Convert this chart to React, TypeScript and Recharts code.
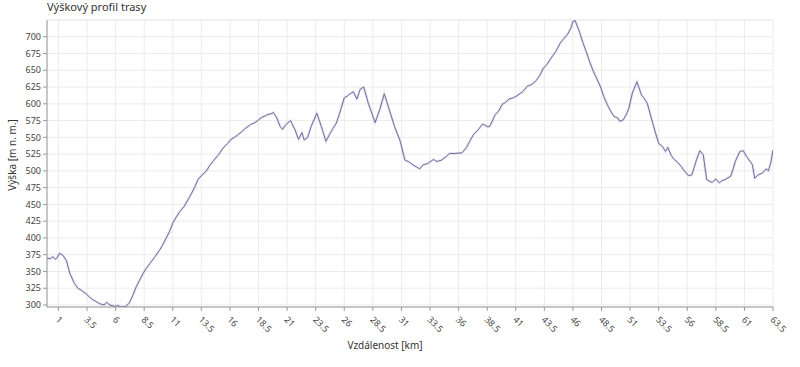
import React from 'react'
import {
  LineChart,
  Line,
  XAxis,
  YAxis,
  CartesianGrid,
  ReferenceLine,
} from 'recharts'

// distance along the route [km]
const distances = [
  0, 0.3, 0.5, 0.75, 0.9, 1.1, 1.4, 1.7, 2.0, 2.4, 2.7, 3.0, 3.4, 3.7, 4.0, 4.3, 4.6, 5.0, 5.2, 5.5, 5.9, 6.2,
  6.5, 6.9, 7.2, 7.5, 7.8, 8.1, 8.4, 8.7, 9.0, 9.4, 9.85, 10.1, 10.4, 10.7, 11.0, 11.3, 11.6, 12.0, 12.5, 12.9,
  13.2, 13.5, 13.9, 14.2, 14.5, 15.0, 15.4, 15.8, 16.1, 16.4, 16.7, 17.0, 17.4, 17.8, 18.2, 18.5, 18.8, 19.1,
  19.3, 19.6, 19.8, 20.1, 20.4, 20.6, 20.9, 21.3, 21.7, 22.0, 22.3, 22.5, 22.8, 23.1, 23.6, 24.0, 24.4, 24.7,
  25.0, 25.3, 25.6, 26.0, 26.3, 26.5, 26.8, 27.1, 27.4, 27.7, 28.1, 28.7, 29.1, 29.5, 30.0, 30.4, 30.9, 31.3,
  31.6, 32.0, 32.3, 32.6, 32.9, 33.3, 33.8, 34.1, 34.5, 34.9, 35.2, 35.7, 36.3, 36.7, 37.0, 37.3, 37.7, 38.1,
  38.5, 38.7, 39.0, 39.2, 39.5, 39.8, 40.1, 40.4, 40.8, 41.1, 41.6, 42.0, 42.4, 42.7, 43.1, 43.4, 43.7, 44.0,
  44.5, 44.9, 45.2, 45.5, 45.8, 46.0, 46.2, 46.6, 46.9, 47.2, 47.5, 47.8, 48.1, 48.4, 48.7, 49.0, 49.3, 49.6,
  49.9, 50.1, 50.4, 50.7, 50.9, 51.2, 51.6, 52.0, 52.2, 52.5, 52.9, 53.2, 53.5, 53.8, 54.1, 54.3, 54.6, 54.8,
  55.2, 55.5, 55.7, 56.1, 56.4, 56.6, 56.8, 57.1, 57.4, 57.7, 58.0, 58.2, 58.5, 58.8, 59.0, 59.3, 59.8, 60.0,
  60.2, 60.6, 60.9, 61.2, 61.5, 61.7, 61.9, 62.2, 62.6, 62.9, 63.1, 63.3, 63.5,
]

// elevation [m n. m.]
const elevations = [
  370, 369, 372, 368, 371, 377, 374, 366, 347, 332, 325, 322, 317, 312, 308, 305, 302, 300, 304, 300, 298, 299,
  297, 298, 303, 314, 327, 337, 347, 355, 362, 371, 382, 389, 399, 409, 422, 431, 439, 447, 462, 475,
  487, 493, 499, 507, 514, 524, 534, 541, 547, 550, 554, 558, 564, 569, 572, 576, 580, 582,
  584, 585, 587, 579, 566, 562, 569, 575, 561, 547, 557, 546, 550, 566, 586, 566, 544, 554,
  563, 571, 586, 609, 612, 615, 618, 607, 622, 625, 601, 572, 591, 615, 588, 566, 544, 516,
  514, 509, 506, 503, 509, 511, 517, 514, 516, 521, 526, 526, 527, 535, 545, 554, 561, 570,
  566, 566, 576, 584, 589, 599, 602, 607, 609, 612, 618, 626, 629, 633, 642, 653, 658, 666,
  678, 691, 697, 703, 712, 723, 724, 706, 690, 676, 661, 648, 637, 626, 611, 599, 589, 581,
  579, 574, 576, 585, 594, 616, 633, 613, 609, 601, 576, 558, 541, 537, 529, 535, 523, 518,
  512, 506, 501, 493, 494, 505, 516, 530, 524, 487, 484, 483, 488, 482, 485, 487, 492, 502,
  514, 529, 530, 521, 514, 509, 489, 494, 497, 503, 500, 512, 531,
]

const xTicks = [
  1, 3.5, 6, 8.5, 11, 13.5, 16, 18.5, 21, 23.5, 26, 28.5, 31, 33.5, 36, 38.5, 41, 43.5, 46, 48.5, 51, 53.5, 56,
  58.5, 61, 63.5,
]
const yTicks = [300, 325, 350, 375, 400, 425, 450, 475, 500, 525, 550, 575, 600, 625, 650, 675, 700]

const data = distances.map((d, i) => ({ km: d, ele: elevations[i] }))

const FONT = '"Noto Sans", "Open Sans", sans-serif'

const XTick = ({ x, y, payload }: { x?: number; y?: number; payload?: { value: number } }) => (
  <g transform={`translate(${(x ?? 0) - 1},${(y ?? 0) + 5}) rotate(45)`}>
    <text x={0} y={0} dy="0.35em" textAnchor="start" fontSize={9} fill="#444" fontFamily={FONT}>
      {payload?.value}
    </text>
  </g>
)

export default function App() {
  return (
    <div style={{ position: 'absolute', left: 0, top: 0, width: 800, height: 367, fontFamily: FONT }}>
      <div style={{ position: 'absolute', left: 47, top: -1, fontSize: 11, color: '#333' }}>
        Výškový profil trasy
      </div>
      <div
        style={{
          position: 'absolute',
          left: 12,
          top: 155,
          fontSize: 10,
          color: '#333',
          transform: 'translate(-50%, -50%) rotate(-90deg)',
          whiteSpace: 'nowrap',
        }}
      >
        Výška [m n. m.]
      </div>
      <div
        style={{
          position: 'absolute',
          left: 385,
          top: 345,
          fontSize: 10,
          color: '#333',
          transform: 'translate(-50%, -50%)',
          whiteSpace: 'nowrap',
        }}
      >
        Vzdálenost [km]
      </div>
      <LineChart width={800} height={367} data={data} margin={{ top: 20, right: 27, left: 0, bottom: 20 }}>
        <CartesianGrid stroke="#ececec" vertical horizontal />
        <ReferenceLine y={725} stroke="#ececec" />
        <XAxis
          dataKey="km"
          type="number"
          domain={[0, 63.5]}
          ticks={xTicks}
          interval={0}
          tick={<XTick />}
          tickLine={{ stroke: '#999' }}
          axisLine={{ stroke: '#999' }}
          tickSize={4}
          height={40}
          allowDataOverflow
        />
        <YAxis
          type="number"
          domain={[297, 725]}
          ticks={yTicks}
          interval={0}
          width={47}
          tick={{ fill: '#444', fontSize: 9, fontFamily: FONT }}
          tickLine={{ stroke: '#999' }}
          axisLine={{ stroke: '#999' }}
          tickSize={4}
          allowDataOverflow
        />
        <Line
          dataKey="ele"
          stroke="rgba(120,115,170,0.18)"
          strokeWidth={2.6}
          dot={false}
          isAnimationActive={false}
        />
        <Line dataKey="ele" stroke="#716c9f" strokeWidth={1} dot={false} isAnimationActive={false} />
      </LineChart>
    </div>
  )
}
